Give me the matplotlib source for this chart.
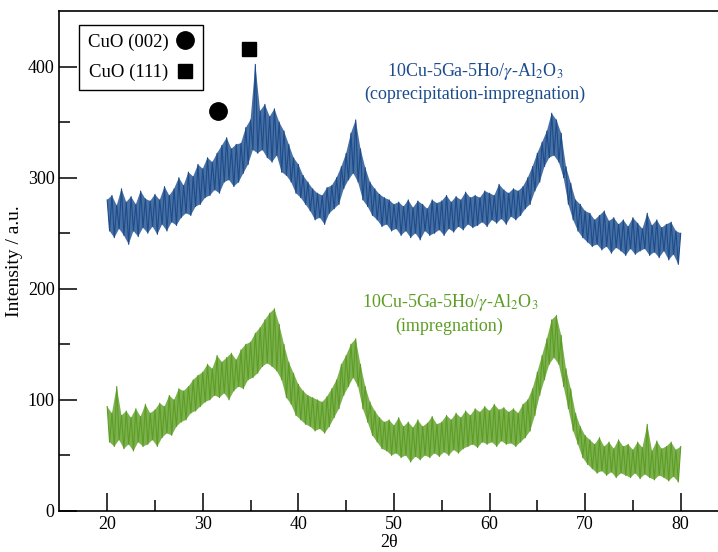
import numpy as np
import matplotlib.pyplot as plt
from matplotlib.lines import Line2D

plt.rcParams['font.family'] = ['Liberation Serif', 'DejaVu Serif']
plt.rcParams['mathtext.fontset'] = 'stix'

# 2theta grid: peaks (upper) at every 0.5 deg, valleys (lower) in between
two_theta_up = np.linspace(20, 80, 121)
two_theta_low = np.linspace(20.25, 79.75, 120)

# 10Cu-5Ga-5Ho/g-Al2O3 (coprecipitation-impregnation)
blue_upper = [
    280, 284, 275, 290, 278, 283, 276, 288, 281, 279,
    285, 280, 292, 284, 290, 300, 293, 305, 301, 312,
    308, 318, 314, 322, 329, 336, 326, 330, 331, 345,
    352, 402, 360, 366, 355, 362, 350, 342, 330, 318,
    312, 302, 296, 290, 286, 284, 291, 293, 300, 310,
    322, 340, 352, 326, 309, 296, 290, 285, 282, 280,
    276, 278, 274, 280, 273, 279, 276, 272, 280, 277,
    279, 284, 278, 283, 280, 287, 282, 284, 282, 288,
    286, 284, 294, 289, 286, 290, 288, 292, 300, 310,
    322, 332, 342, 358, 352, 340, 310, 295, 280, 276,
    270, 268, 262, 266, 270, 261, 264, 258, 262, 256,
    264, 259, 254, 268, 257, 262, 255, 258, 260, 252,
    250,
]
blue_lower = [
    252, 246, 254, 248, 240, 252, 247, 255, 250, 256,
    249, 258, 252, 260, 257, 264, 268, 266, 274, 276,
    282, 284, 289, 286, 296, 298, 292, 296, 304, 312,
    325, 322, 325, 318, 314, 320, 305, 302, 296, 286,
    282, 276, 270, 262, 264, 258, 268, 272, 276, 290,
    298, 304, 296, 280, 274, 266, 262, 256, 258, 252,
    254, 248, 252, 246, 250, 244, 252, 248, 250, 253,
    248, 254, 251, 256, 253, 258, 255, 257, 260, 256,
    262, 259, 263, 258, 265, 262, 266, 272, 276, 288,
    296, 310, 318, 320, 314, 300, 276, 262, 252, 246,
    242, 238, 240, 235, 238, 232, 237, 234, 230, 236,
    231, 234, 236, 230, 233, 228, 234, 226, 231, 222,
]

# 10Cu-5Ga-5Ho/g-Al2O3 (impregnation)
green_upper = [
    94, 88, 112, 86, 90, 84, 92, 85, 96, 88,
    91, 97, 94, 104, 100, 110, 108, 112, 118, 122,
    125, 132, 128, 140, 134, 138, 142, 136, 145, 150,
    152, 160, 165, 172, 178, 182, 168, 150, 134, 124,
    114, 108, 104, 102, 100, 98, 103, 110, 118, 132,
    140, 150, 155, 132, 112, 98, 90, 84, 80, 82,
    77, 84, 76, 80, 75, 82, 76, 79, 85, 78,
    80, 86, 82, 88, 84, 90, 86, 92, 89, 94,
    90, 96, 91, 93, 89, 92, 88, 96, 100, 110,
    125, 140, 155, 172, 176, 158, 128, 110, 88, 76,
    68, 64, 60, 66, 58, 62, 56, 64, 58, 60,
    55, 62, 57, 78, 54, 63, 56, 58, 62, 55,
    58,
]
green_lower = [
    62, 58, 64, 56, 60, 54, 62, 58, 60, 64,
    58, 66, 70, 68, 76, 80, 82, 88, 90, 94,
    98, 100, 104, 102, 106, 100, 108, 112, 110, 118,
    120, 124, 130, 133, 130, 126, 118, 102, 96, 86,
    82, 78, 76, 72, 74, 70, 76, 84, 92, 104,
    112, 120, 112, 92, 80, 68, 62, 56, 54, 50,
    52, 48, 50, 44, 49, 46, 50, 48, 52, 49,
    53, 50, 55, 52, 56, 58, 60, 57, 62, 60,
    62, 58, 63, 60, 61, 58, 62, 66, 72, 86,
    104, 118, 132, 138, 132, 112, 92, 72, 60, 48,
    42, 38, 34, 36, 32, 35, 30, 34, 32, 30,
    34, 29, 33, 30, 28, 32, 30, 27, 31, 26,
]

# CuO reflection markers
cuo_002 = [31.6, 360]
cuo_111 = [34.8, 416]

blue = '#1c4c8c'
green = '#5c9e24'


def zigzag(upper, lower):
    x = np.empty(len(upper) + len(lower))
    y = np.empty(len(upper) + len(lower))
    x[0::2] = two_theta_up
    x[1::2] = two_theta_low
    y[0::2] = upper
    y[1::2] = lower
    return x, y


def band(ax, upper, lower, color):
    # shaded envelope behind the noisy trace
    xs = np.concatenate([two_theta_up, two_theta_low[::-1]])
    ys = np.concatenate([upper, lower[::-1]])
    ax.fill(xs, ys, color=color, alpha=0.8, lw=0)


fig = plt.figure(figsize=(7.18, 5.52), dpi=100)
ax = fig.add_axes([0.0827, 0.0743, 0.9173, 0.9057])

band(ax, blue_upper, blue_lower, blue)
band(ax, green_upper, green_lower, green)
xb, yb = zigzag(blue_upper, blue_lower)
xg, yg = zigzag(green_upper, green_lower)
ax.plot(xb, yb, color=blue, lw=0.8)
ax.plot(xg, yg, color=green, lw=0.8)

ax.plot(*cuo_002, marker='o', color='black', ms=12.5, ls='none')
ax.plot(*cuo_111, marker='s', color='black', ms=10, ls='none')

ax.text(58.45, 396, r'10Cu-5Ga-5Ho/$\gamma$-Al$_2$O$_3$', color=blue,
        fontsize=13, ha='center', va='center')
ax.text(58.45, 375, '(coprecipitation-impregnation)', color=blue,
        fontsize=13, ha='center', va='center')
ax.text(55.9, 188, r'10Cu-5Ga-5Ho/$\gamma$-Al$_2$O$_3$', color=green,
        fontsize=13, ha='center', va='center')
ax.text(55.8, 166, '(impregnation)', color=green,
        fontsize=13, ha='center', va='center')

handles = [Line2D([], [], marker='o', color='black', ls='none', ms=12.5),
           Line2D([], [], marker='s', color='black', ls='none', ms=10)]
leg = ax.legend(handles, ['CuO (002)', 'CuO (111)'], markerfirst=False,
                loc='upper left', bbox_to_anchor=(0.03, 0.972), borderaxespad=0,
                fancybox=False, framealpha=1, edgecolor='black', fontsize=13.5,
                handlelength=1.0, handletextpad=0.4, labelspacing=0.7,
                borderpad=0.45)
leg.get_frame().set_linewidth(1.0)

ax.set_xlim(15, 83.9)
ax.set_ylim(0, 450)
ax.set_xticks([20, 30, 40, 50, 60, 70, 80])
ax.set_xticks([25, 35, 45, 55, 65, 75], minor=True)
ax.set_yticks([0, 100, 200, 300, 400])
ax.set_yticks([50, 150, 250, 350], minor=True)
ax.tick_params(which='major', direction='in', length=13, width=1.1, labelsize=13)
ax.tick_params(which='minor', direction='in', length=8, width=1.1)
ax.spines['right'].set_visible(False)
for s in ['left', 'bottom', 'top']:
    ax.spines[s].set_linewidth(1.2)

ax.set_xlabel('2θ', fontsize=13, labelpad=1)
ax.set_ylabel('Intensity / a.u.', fontsize=14, labelpad=3)

fig.savefig('out.png', dpi=100)
